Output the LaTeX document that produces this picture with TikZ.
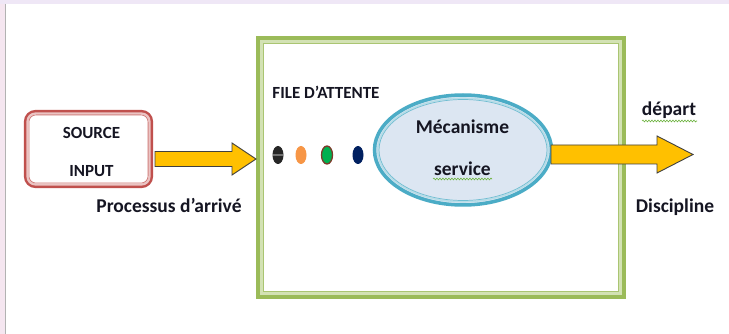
\documentclass[tikz,border=0pt]{standalone}
\usepackage{fontspec}
\setmainfont{Carlito}
\usetikzlibrary{shapes.geometric,calc,decorations.pathmorphing}
\definecolor{gbox}{HTML}{9BBB59}
\definecolor{gboxlight}{HTML}{D3E2B4}
\definecolor{rbox}{HTML}{C0504D}
\definecolor{rboxlight}{HTML}{EBC4C3}
\definecolor{bline}{HTML}{4BACC6}
\definecolor{blight}{HTML}{B7DDE8}
\definecolor{bfill}{HTML}{DCE6F2}
\definecolor{arrfill}{HTML}{FFC000}
\definecolor{arrline}{HTML}{404040}
\definecolor{lav}{HTML}{EFE7F6}
\definecolor{lavleft}{HTML}{F5E6F0}
\definecolor{squig}{HTML}{6DB33F}
\definecolor{txt}{HTML}{151522}
\definecolor{dotorange}{HTML}{F79646}
\definecolor{dotgreen}{HTML}{00B050}
\definecolor{dotbrown}{HTML}{7B3B2B}
\definecolor{dotnavy}{HTML}{002060}
\newcommand\blockarr[5]{%
  \draw[barrow] ($(#1)+(0,-#3)$) -- ($(#2)+(-#5,-#3)$) -- ($(#2)+(-#5,-#4)$) -- (#2)
    -- ($(#2)+(-#5,#4)$) -- ($(#2)+(-#5,#3)$) -- ($(#1)+(0,#3)$) -- cycle;}
\tikzset{
  barrow/.style={fill=arrfill, draw=arrline, line width=0.9, line join=miter},
  bigtxt/.style={text=txt, font=\bfseries\fontsize{19.5}{22}\selectfont, inner sep=0, anchor=base},
  smalltxt/.style={text=txt, font=\bfseries\fontsize{17}{20}\selectfont, inner sep=0, anchor=base},
  qdot/.style={ellipse, minimum width=11, minimum height=18, inner sep=0},
  squiggle/.style={draw=squig, line width=0.6, decorate, decoration={snake, amplitude=0.9, segment length=3}},
}
\begin{document}
\begin{tikzpicture}[x=1pt,y=-1pt]
\useasboundingbox (0,0) rectangle (729,334);
\fill[white] (0,0) rectangle (729,334);
% window frame strips
\fill[lav] (0,0) rectangle (729,4);
\fill[lavleft] (0,4) rectangle (5,334);
\draw[gray!60, line width=1] (5.5,4) -- (5.5,334);

% green system box
\draw[gbox, line width=4] (258,38) rectangle (624,297);
\draw[gboxlight, line width=2.5] (261.5,41.5) rectangle (620.5,293.5);
\draw[gbox!85, line width=1] (263.5,43.5) rectangle (618.5,291.5);

% source box
\node[draw=rbox, line width=3.2, rounded corners=10, minimum width=126, minimum height=75, inner sep=0] (src) at (88.5,149) {};
\draw[rboxlight, line width=2, rounded corners=8] ($(src.north west)+(3.5,3.5)$) rectangle ($(src.south east)+(-3.5,-3.5)$);
\draw[rbox!80, line width=0.8, rounded corners=7] ($(src.north west)+(5,5)$) rectangle ($(src.south east)+(-5,-5)$);
\node[smalltxt] (srctxt) at (91.5,139) {SOURCE};
\node[smalltxt] (inptxt) at (91.5,177) {INPUT};

% arrival arrow
\coordinate (a1s) at (155,159);
\coordinate (a1e) at (256,159);
\blockarr{a1s}{a1e}{7.5}{16}{24}
\node[bigtxt] (arr) at (169,212) {Processus d’arrivé};

% queue
\node[smalltxt] (fa) at (326,99) {FILE D’ATTENTE};
\node[qdot, fill=black!85] (d1) at (278,155) {};
\fill[white, opacity=0.35] (273,154) rectangle (283,156);
\node[qdot, fill=dotorange] (d2) at (301,155) {};
\node[qdot, fill=dotgreen, draw=dotbrown, line width=1.3] (d3) at (327,155) {};
\node[qdot, fill=dotnavy] (d4) at (358,155) {};

% service mechanism
\node[ellipse, draw=bline, line width=3.5, fill=bfill, minimum width=177, minimum height=110, inner sep=0] (mech) at (463,150) {};
\draw[blight, line width=1.5] (mech.center) ellipse [x radius=85.3, y radius=51.8];
\draw[bline!80, line width=0.7] (mech.center) ellipse [x radius=84, y radius=50.5];
\node[bigtxt] (m1) at (462.5,134) {Mécanisme};
\node[bigtxt] (m2) at (462.5,176) {service};
\draw[squiggle] (433,179) -- (492,179);

% departure arrow
\coordinate (a2s) at (551,154.5);
\coordinate (a2e) at (693,154.5);
\blockarr{a2s}{a2e}{9.5}{18.5}{36}
\node[bigtxt] (dep) at (669,116) {départ};
\draw[squiggle] (642,121) -- (697,121);
\node[bigtxt] (disc) at (675,213) {Discipline};
\end{tikzpicture}
\end{document}
